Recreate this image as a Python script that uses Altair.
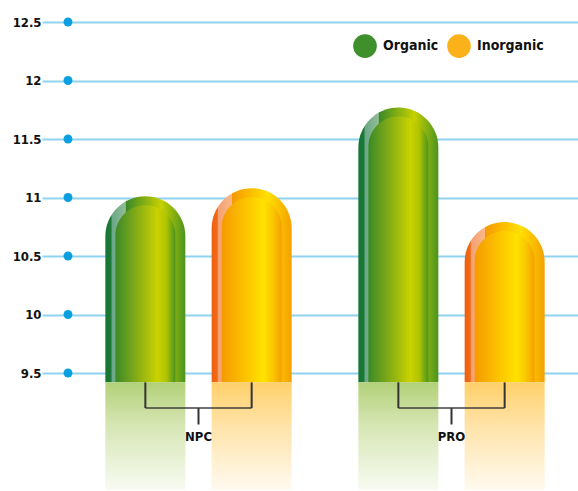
import altair as alt
import pandas as pd

groups = ["NPC", "PRO"]
types = ["Organic", "Inorganic"]
organic = [11.01, 11.77]
inorganic = [11.08, 10.79]
ticks = [9.5, 10, 10.5, 11, 11.5, 12, 12.5]

rows = []
for g, o, i in zip(groups, organic, inorganic):
    rows.append({"group": g, "type": "Organic", "value": o})
    rows.append({"group": g, "type": "Inorganic", "value": i})
df = pd.DataFrame(rows)
gdf = pd.DataFrame({"group": groups})
tdf = pd.DataFrame({"t": ticks})

FONT = "DejaVu Sans Condensed, Liberation Sans Narrow, sans-serif"
BASE = 9.42
FLOOR = 8.5

def hgrad(stops):
    return alt.LinearGradient(gradient="linear", x1=0, x2=1, y1=0, y2=0,
                              stops=[alt.GradientStop(color=c, offset=o) for o, c in stops])

def vgrad(stops):
    return alt.LinearGradient(gradient="linear", x1=0, x2=0, y1=0, y2=1,
                              stops=[alt.GradientStop(color=c, offset=o) for o, c in stops])

outer = {
    "Organic": hgrad([(0, "#177433"), (0.07, "#1c7a36"), (0.085, "#6aa788"), (0.25, "#93bd96"),
                      (0.26, "#3a8a28"), (0.7, "#c8d000"), (1, "#4a9420")]),
    "Inorganic": hgrad([(0, "#ee5f10"), (0.07, "#f06a14"), (0.085, "#f5a072"), (0.25, "#f8b888"),
                        (0.26, "#f59a00"), (0.7, "#ffe000"), (1, "#f5a000")]),
}
inner = {
    "Organic": hgrad([(0, "#3a8a28"), (0.3, "#7aa61a"), (0.7, "#cad200"), (0.85, "#b0c400"), (1, "#4a9420")]),
    "Inorganic": hgrad([(0, "#f59a00"), (0.35, "#fbbe00"), (0.7, "#ffe200"), (0.85, "#fac800"), (1, "#f5a000")]),
}
refl = {
    "Organic": vgrad([(0, "#b2d078"), (0.4, "#d6e6b4"), (1, "#f8fbf2")]),
    "Inorganic": vgrad([(0, "#ffd06a"), (0.4, "#ffe3a8"), (1, "#fffaf0")]),
}

x_enc = alt.X("group:N", sort=groups, axis=None,
              scale=alt.Scale(paddingInner=0, paddingOuter=0))
xo_enc = alt.XOffset("type:N", sort=types,
                     scale=alt.Scale(paddingInner=0, paddingOuter=0.19))
y_scale = alt.Scale(domain=[FLOOR, 12.5], nice=False, zero=False)
AX = alt.Axis(values=ticks, format="~g", title=None, grid=True,
              gridColor="#8fd3f0", gridWidth=2, tickColor="#8fd3f0",
              tickWidth=2, tickSize=30, domain=False, labelPadding=1,
              labelFont=FONT, labelFontWeight="bold", labelFontSize=13,
              labelColor="#111111")

def yd(v):
    return alt.YDatum(v, scale=y_scale, axis=AX)

def yv():
    return alt.Y("value:Q", scale=y_scale, axis=AX)

base = alt.Chart(df).encode(x=x_enc, xOffset=xo_enc)

layers = []
# blue dots on axis
layers.append(alt.Chart(tdf).mark_circle(color="#0a9fe0", size=80, opacity=1).encode(
    x=alt.value(-4), y=alt.Y("t:Q", scale=y_scale, axis=AX)))

for t in types:
    sub = base.transform_filter(alt.datum.type == t)
    layers.append(sub.mark_bar(width=80, fill=outer[t], cornerRadiusTopLeft=40,
                               cornerRadiusTopRight=40).encode(
        y=yv(), y2=alt.datum(BASE)))
    layers.append(sub.mark_bar(width=60, xOffset=10, yOffset=9, fill=inner[t],
                               cornerRadiusTopLeft=30, cornerRadiusTopRight=30).encode(
        y=yv(), y2=alt.datum(BASE)))
    layers.append(sub.mark_bar(width=80, fill=refl[t]).encode(
        y=yd(BASE), y2=alt.datum(FLOOR)))

# brackets
layers.append(base.mark_rule(color="#333333", strokeWidth=2).encode(
    y=yd(BASE), y2=alt.datum(9.2)))
gbase = alt.Chart(gdf).encode(x=x_enc)
layers.append(gbase.mark_tick(color="#333333", size=106, thickness=2).encode(
    y=yd(9.2)))
layers.append(gbase.mark_rule(color="#333333", strokeWidth=2).encode(
    y=yd(9.2), y2=alt.datum(9.06)))
layers.append(gbase.mark_text(font=FONT, fontWeight="bold", fontSize=13, color="#111111",
                              baseline="middle").encode(
    y=yd(8.95), text="group:N"))

# legend holder
layers.append(base.mark_point(filled=True, opacity=0).encode(
    y=yv(),
    color=alt.Color("type:N", sort=types,
                    scale=alt.Scale(domain=types, range=["#3f8f2c", "#fbb21a"]),
                    legend=alt.Legend(orient="none", legendX=281, legendY=12,
                                      direction="horizontal", title=None,
                                      symbolType="circle", symbolSize=560,
                                      symbolOpacity=1, symbolStrokeWidth=0,
                                      labelFont=FONT, labelFontWeight="bold",
                                      labelFontSize=14, labelColor="#111111",
                                      labelOffset=6, columnPadding=8, padding=0))))

chart = alt.layer(*layers).properties(
    width=506, height=468,
    background="white",
    autosize=alt.AutoSizeParams(type="none"),
    padding={"left": 72, "top": 22, "right": 0, "bottom": 1},
).configure_view(stroke=None, strokeWidth=0)

chart.save("out.html", embed_options={"renderer": "svg", "actions": False})
